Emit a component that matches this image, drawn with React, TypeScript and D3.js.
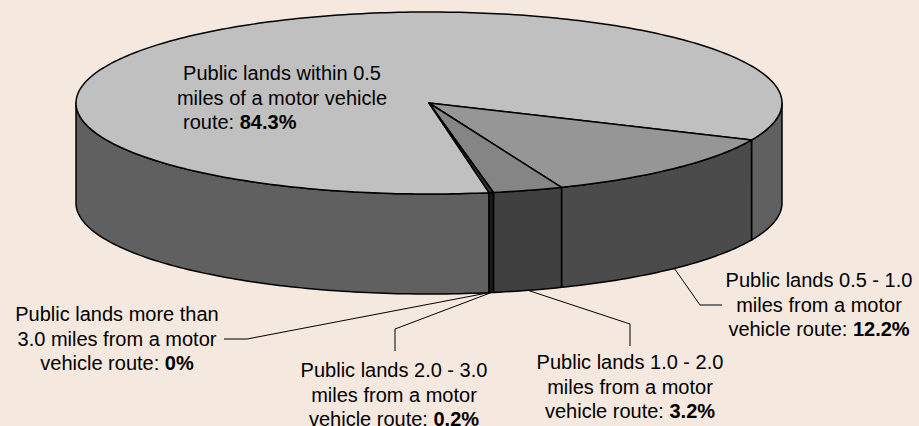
import React from "react";
import * as d3 from "d3";

// data, in the order of the pie slices
const categories = [
  "Public lands within 0.5 miles of a motor vehicle route",
  "Public lands 0.5 - 1.0 miles from a motor vehicle route",
  "Public lands 1.0 - 2.0 miles from a motor vehicle route",
  "Public lands 2.0 - 3.0 miles from a motor vehicle route",
  "Public lands more than 3.0 miles from a motor vehicle route",
];
const shares = [84.3, 12.2, 3.2, 0.2, 0];
const valueLabels = ["84.3%", "12.2%", "3.2%", "0.2%", "0%"];
const labelLines = [
  ["Public lands within 0.5", "miles of a motor vehicle", "route: "],
  ["Public lands 0.5 - 1.0", "miles from a motor", "vehicle route: "],
  ["Public lands 1.0 - 2.0", "miles from a motor", "vehicle route: "],
  ["Public lands 2.0 - 3.0", "miles from a motor", "vehicle route: "],
  ["Public lands more than", "3.0 miles from a motor", "vehicle route: "],
];

const topColors = ["#C0C0C0", "#969696", "#858585", "#333333", "#1A1A1A"];
const sideColors = ["#606060", "#4B4B4B", "#404040", "#1A1A1A", "#0D0D0D"];

// label placement (x, y of first line, leader elbow + end)
const labelLayout = [
  { x: 282, y: 73, lastX: 183, leader: null },
  { x: 819, y: 280, lastX: null, leader: [[700, 305], [722, 305]] },
  { x: 630, y: 362, lastX: null, leader: [[630, 324], [630, 346]] },
  { x: 394, y: 370, lastX: null, leader: [[395, 329], [395, 351]] },
  { x: 117, y: 314, lastX: null, leader: [[247, 339], [224, 339]] },
];

const W = 919;
const H = 426;
const cx = 429;
const cy = 103;
const rx = 353;
const ry = 91;
const depth = 100;
const startDeg = 170.2; // d3 angle (12 o'clock, clockwise) of the first slice
const lineGap = 24.5;

const toT = (a: number) => a - Math.PI / 2;
const pt = (t: number, dy = 0): [number, number] => [
  cx + rx * Math.cos(t),
  cy + ry * Math.sin(t) + dy,
];

const arcPts = (t1: number, t2: number, dy = 0) => {
  const n = Math.max(2, Math.ceil(((t2 - t1) * 180) / Math.PI));
  return d3.range(n + 1).map((i) => pt(t1 + ((t2 - t1) * i) / n, dy));
};

const line = d3.line<[number, number]>();

export default function App() {
  const pie = d3
    .pie<number>()
    .sort(null)
    .startAngle((startDeg * Math.PI) / 180)
    .endAngle((startDeg * Math.PI) / 180 + 2 * Math.PI);
  const arcs = pie(shares);

  // front walls: visible where t is in [0, PI] (or [2PI, 3PI])
  const walls: { i: number; d: string }[] = [];
  arcs.forEach((a, i) => {
    if (a.endAngle - a.startAngle <= 0) return;
    const t1 = toT(a.startAngle);
    const t2 = toT(a.endAngle);
    [0, 2 * Math.PI].forEach((off) => {
      const s = Math.max(t1, off);
      const e = Math.min(t2, off + Math.PI);
      if (e <= s) return;
      const top = arcPts(s, e);
      const bottom = arcPts(s, e, depth).reverse();
      walls.push({ i, d: line([...top, ...bottom])! + "Z" });
    });
  });

  const tops = arcs
    .map((a, i) => ({ a, i }))
    .filter(({ a }) => a.endAngle - a.startAngle > 0)
    .map(({ a, i }) => ({
      i,
      d: line([[cx, cy], ...arcPts(toT(a.startAngle), toT(a.endAngle))])! + "Z",
    }));

  return (
    <div style={{ position: "absolute", left: 0, top: 0 }}>
      <svg width={W} height={H} style={{ display: "block" }}>
        <rect width={W} height={H} fill="#F4E8DF" />
        {walls.map((w, k) => (
          <path
            key={"w" + k}
            d={w.d}
            fill={sideColors[w.i]}
            stroke="#000"
            strokeWidth={1.5}
            strokeLinejoin="round"
          />
        ))}
        {tops.map((s) => (
          <path
            key={"t" + s.i}
            d={s.d}
            fill={topColors[s.i]}
            stroke="#000"
            strokeWidth={1.5}
            strokeLinejoin="round"
          />
        ))}
        {arcs.map((a, i) => {
          const lay = labelLayout[i];
          if (!lay.leader) return null;
          const mid = toT((a.startAngle + a.endAngle) / 2);
          const p0 = pt(mid, depth);
          return (
            <path
              key={"l" + i}
              d={line([p0, ...(lay.leader as [number, number][])])!}
              fill="none"
              stroke="#000"
              strokeWidth={1}
            />
          );
        })}
        {categories.map((c, i) => {
          const lay = labelLayout[i];
          const lines = labelLines[i];
          return (
            <g key={"txt" + i}>
              <title>{c}</title>
              {lines.map((ln, j) => {
                const last = j === lines.length - 1;
                const leftAlign = last && lay.lastX != null;
                return (
                  <text
                    key={j}
                    x={leftAlign ? lay.lastX! : lay.x}
                    y={lay.y + j * lineGap}
                    dy="0.35em"
                    textAnchor={leftAlign ? "start" : "middle"}
                    fontFamily="'Liberation Sans', Arial, sans-serif"
                    fontSize={20}
                    fill="#000"
                  >
                    {ln}
                    {last && <tspan fontWeight="bold">{valueLabels[i]}</tspan>}
                  </text>
                );
              })}
            </g>
          );
        })}
      </svg>
    </div>
  );
}
